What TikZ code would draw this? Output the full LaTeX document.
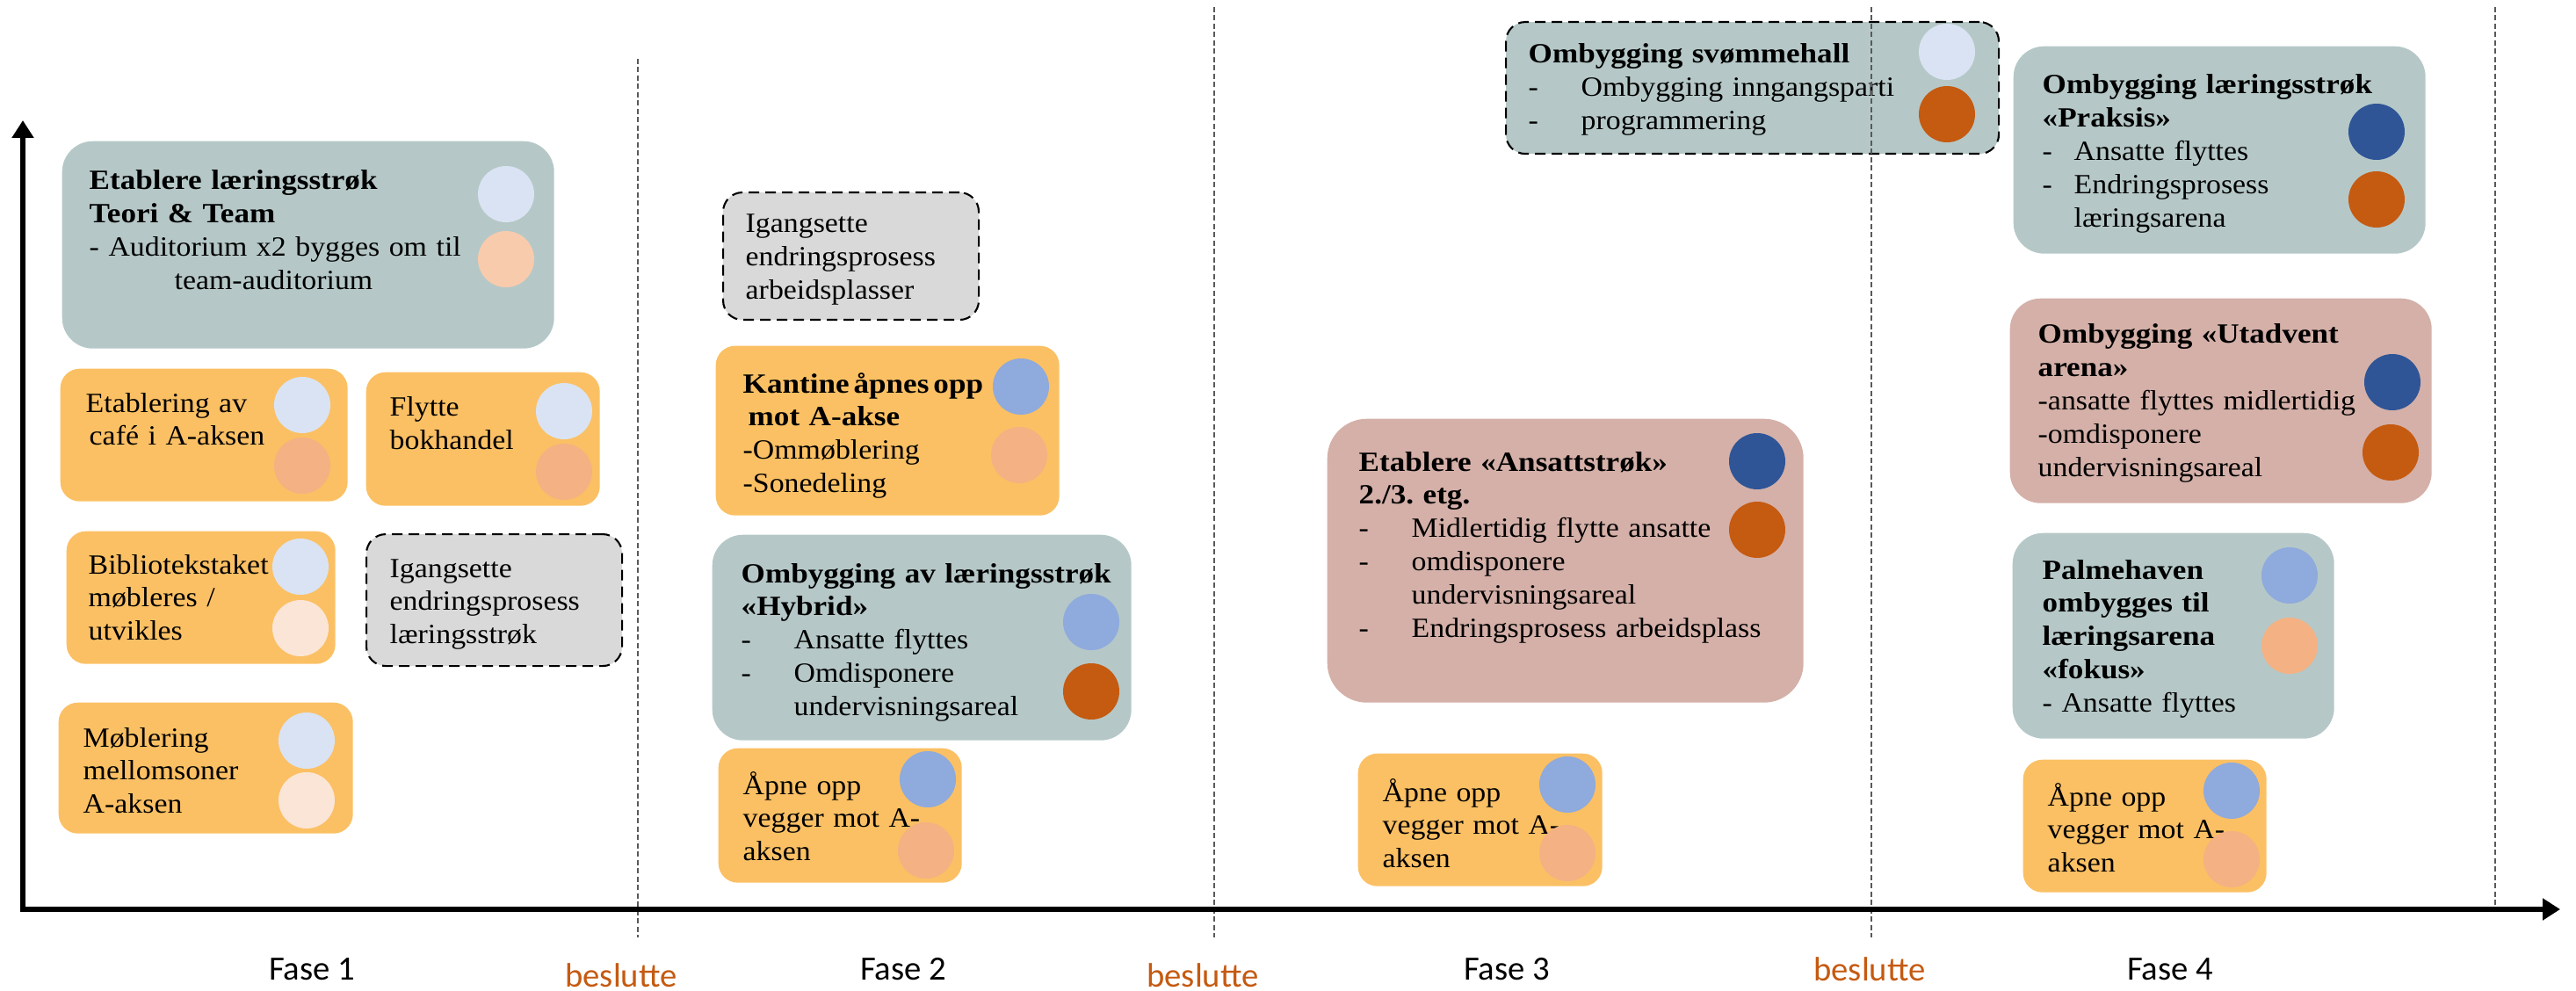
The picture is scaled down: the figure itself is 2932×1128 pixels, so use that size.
\documentclass[tikz,border=0pt]{standalone}
\usepackage{fontspec}
\setmainfont[FakeStretch=1.07, BoldFeatures={FakeStretch=1.11}]{Liberation Serif}
\setsansfont{Carlito}
\usepackage{tikz}
\usetikzlibrary{arrows.meta}
\frenchspacing

\definecolor{tealbox}{HTML}{B5C8C7}
\definecolor{orangebox}{HTML}{FBC064}
\definecolor{pinkbox}{HTML}{D4B0A8}
\definecolor{greybox}{HTML}{D9D9D9}
\definecolor{paleblue}{HTML}{DAE3F3}
\definecolor{midblue}{HTML}{8FAADC}
\definecolor{darkblue}{HTML}{2F5597}
\definecolor{peach}{HTML}{F8CBAD}
\definecolor{salmon}{HTML}{F4B183}
\definecolor{palepeach}{HTML}{FBE5D6}
\definecolor{rust}{HTML}{C55A11}

\newcommand{\boxfont}{\fontsize{9}{10.8}\selectfont}
\newcommand{\punkt}[2][6mm]{\makebox[#1][l]{-}#2}

\begin{document}
\begin{tikzpicture}[
        x=0.1mm, y=-0.1mm,
        stage/.style={fill=#1, rounded corners=2.2mm, anchor=north west, inner sep=0pt},
        stage/.default=orangebox,
        bigstage/.style={stage=#1, rounded corners=3.5mm},
        planned/.style={stage=greybox, draw, line width=0.6pt, dash pattern=on 1.2mm off 0.7mm},
        lbl/.style={anchor=base west, inner sep=0pt, align=left, text width=60mm, font=\boxfont},
        dot/.style={circle, fill=#1, minimum size=6.4mm, inner sep=0pt},
        divider/.style={line width=0.4pt, draw=black!65, dash pattern=on 0.6mm off 0.35mm},
        axis/.style={line width=1.9pt, line cap=rect, -{Triangle[length=2mm, width=2.4mm]}},
        fase/.style={font=\sffamily\fontsize{11}{13}\selectfont, inner sep=1pt},
        vedtak/.style={fase, text=rust}
    ]
        \useasboundingbox (0,0) rectangle (2932,1128);

        \node[bigstage=tealbox, minimum width=56mm, minimum height=23.6mm] (teori) at (70,160) {};
        \node[lbl] (teori-t) at (101,216) {\textbf{Etablere læringsstrøk}\\\textbf{Teori \& Team}\\- Auditorium x2 bygges om til\\\hspace*{9.7mm}team-auditorium};
        \node[dot=paleblue] (teori-a) at (576,221) {};
        \node[dot=peach] (teori-b) at (576,295) {};

        \node[stage, minimum width=32.7mm, minimum height=15.1mm] (cafe) at (68,419) {};
        \node[lbl] (cafe-t) at (97,469) {Etablering av\\\hspace*{0.4mm}café i A-aksen};
        \node[dot=paleblue] (cafe-a) at (344,461) {};
        \node[dot=salmon] (cafe-b) at (344,530) {};

        \node[stage, minimum width=26.6mm, minimum height=15.2mm] (bokhandel) at (416,423) {};
        \node[lbl] (bokhandel-t) at (443,474) {Flytte\\bokhandel};
        \node[dot=paleblue] (bokhandel-a) at (642,468) {};
        \node[dot=salmon] (bokhandel-b) at (642,537) {};

        \node[stage, minimum width=30.6mm, minimum height=15.1mm] (bibliotek) at (75,604) {};
        \node[lbl] (bibliotek-t) at (100,653) {Bibliotekstaket\\møbleres /\\utvikles};
        \node[dot=paleblue] (bibliotek-a) at (342,645) {};
        \node[dot=palepeach] (bibliotek-b) at (342,715) {};

        \node[planned, minimum width=29.1mm, minimum height=15mm] (endring-a) at (416,607) {};
        \node[lbl] (endring-a-t) at (443,657) {Igangsette\\endringsprosess\\læringsstrøk};

        \node[stage, minimum width=33.5mm, minimum height=14.9mm] (mellomsoner) at (66,799) {};
        \node[lbl] (mellomsoner-t) at (94,850) {Møblering\\mellomsoner\\A-aksen};
        \node[dot=paleblue] (mellomsoner-a) at (349,843) {};
        \node[dot=palepeach] (mellomsoner-b) at (349,911) {};

        \node[planned, minimum width=29.1mm, minimum height=14.5mm] (endring-b) at (822,218) {};
        \node[lbl] (endring-b-t) at (848,265) {Igangsette\\endringsprosess\\arbeidsplasser};

        \node[stage, minimum width=39.1mm, minimum height=19.3mm] (kantine) at (814,393) {};
        \node[lbl] (kantine-t) at (845,447) {\textbf{Kantine\hspace{0.5mm}åpnes\hspace{0.5mm}opp}\\\hspace*{0.6mm}\textbf{mot A-akse}\\-Ommøblering\\-Sonedeling};
        \node[dot=midblue] (kantine-a) at (1162,440) {};
        \node[dot=salmon] (kantine-b) at (1160,518) {};

        \node[bigstage=tealbox, minimum width=47.7mm, minimum height=23.4mm] (hybrid) at (810,608) {};
        \node[lbl] (hybrid-t) at (843,663) {\textbf{Ombygging av læringsstrøk}\\\textbf{«Hybrid»}\\\punkt{Ansatte flyttes}\\\punkt{Omdisponere}\\\hspace*{6mm}undervisningsareal};
        \node[dot=midblue] (hybrid-a) at (1242,708) {};
        \node[dot=rust] (hybrid-b) at (1242,787) {};

        \node[stage, minimum width=27.7mm, minimum height=15.3mm] (apne-b) at (817,851) {};
        \node[lbl] (apne-b-t) at (845,904) {Åpne opp\\vegger mot A-\\aksen};
        \node[dot=midblue] (apne-b-a) at (1056,887) {};
        \node[dot=salmon] (apne-b-b) at (1054,968) {};

        \node[planned, fill=tealbox, minimum width=56.1mm, minimum height=15mm] (svomme) at (1713,24) {};
        \node[lbl] (svomme-t) at (1739,72) {\textbf{Ombygging svømmehall}\\\punkt{Ombygging inngangsparti}\\\punkt{programmering}};
        \node[dot=paleblue] (svomme-a) at (2216,59) {};
        \node[dot=rust] (svomme-b) at (2216,130) {};

        \node[stage=pinkbox, rounded corners=4.5mm, minimum width=54.2mm, minimum height=32.3mm] (ansatt) at (1510,476) {};
        \node[lbl] (ansatt-t) at (1546,536) {\textbf{Etablere «Ansattstrøk»}\\\textbf{2./3. etg.}\\\punkt{Midlertidig flytte ansatte}\\\punkt{omdisponere}\\\hspace*{6mm}undervisningsareal\\\punkt{Endringsprosess arbeidsplass}};
        \node[dot=darkblue] (ansatt-a) at (2000,525) {};
        \node[dot=rust] (ansatt-b) at (2000,603) {};

        \node[stage, minimum width=27.8mm, minimum height=15.1mm] (apne-c) at (1545,857) {};
        \node[lbl] (apne-c-t) at (1573,912) {Åpne opp\\vegger mot A-\\aksen};
        \node[dot=midblue] (apne-c-a) at (1784,893) {};
        \node[dot=salmon] (apne-c-b) at (1784,971) {};

        \node[bigstage=tealbox, minimum width=46.9mm, minimum height=23.6mm] (praksis) at (2291,52) {};
        \node[lbl] (praksis-t) at (2324,107) {\textbf{Ombygging læringsstrøk}\\\textbf{«Praksis»}\\\punkt[3.6mm]{Ansatte flyttes}\\\punkt[3.6mm]{Endringsprosess}\\\hspace*{3.6mm}læringsarena};
        \node[dot=darkblue] (praksis-a) at (2705,150) {};
        \node[dot=rust] (praksis-b) at (2705,227) {};

        \node[bigstage=pinkbox, minimum width=48mm, minimum height=23.3mm] (utadvent) at (2287,339) {};
        \node[lbl] (utadvent-t) at (2319,391) {\textbf{Ombygging «Utadvent}\\\textbf{arena»}\\-ansatte flyttes midlertidig\\-omdisponere\\undervisningsareal};
        \node[dot=darkblue] (utadvent-a) at (2723,435) {};
        \node[dot=rust] (utadvent-b) at (2721,515) {};

        \node[bigstage=tealbox, minimum width=36.6mm, minimum height=23.4mm] (palmehaven) at (2290,606) {};
        \node[lbl] (palmehaven-t) at (2324,659) {\textbf{Palmehaven}\\\textbf{ombygges til}\\\textbf{læringsarena}\\\textbf{«fokus»}\\- Ansatte flyttes};
        \node[dot=midblue] (palmehaven-a) at (2606,655) {};
        \node[dot=salmon] (palmehaven-b) at (2606,735) {};

        \node[stage, minimum width=27.7mm, minimum height=15.1mm] (apne-d) at (2302,864) {};
        \node[lbl] (apne-d-t) at (2330,917) {Åpne opp\\vegger mot A-\\aksen};
        \node[dot=midblue] (apne-d-a) at (2540,900) {};
        \node[dot=salmon] (apne-d-b) at (2540,978) {};

        \draw[divider] (726,67) -- (726,1067);
        \draw[divider] (1382,8) -- (1382,1067);
        \draw[divider] (2130,8) -- (2130,1067);
        \draw[divider] (2840,8) -- (2840,1035);

        \coordinate (origo) at (26,1035);
        \coordinate (ytop) at (26,137);
        \coordinate (xend) at (2914,1035);
        \draw[axis] (origo) -- (ytop);
        \draw[axis] (origo) -- (xend);

        \node[fase] (fase1) at (355,1103) {Fase 1};
        \node[vedtak] (vedtak1) at (707,1110) {beslutte};
        \node[fase] (fase2) at (1028,1103) {Fase 2};
        \node[vedtak] (vedtak2) at (1369,1110) {beslutte};
        \node[fase] (fase3) at (1715,1103) {Fase 3};
        \node[vedtak] (vedtak3) at (2128,1103) {beslutte};
        \node[fase] (fase4) at (2470,1103) {Fase 4};
    \end{tikzpicture}
\end{document}
